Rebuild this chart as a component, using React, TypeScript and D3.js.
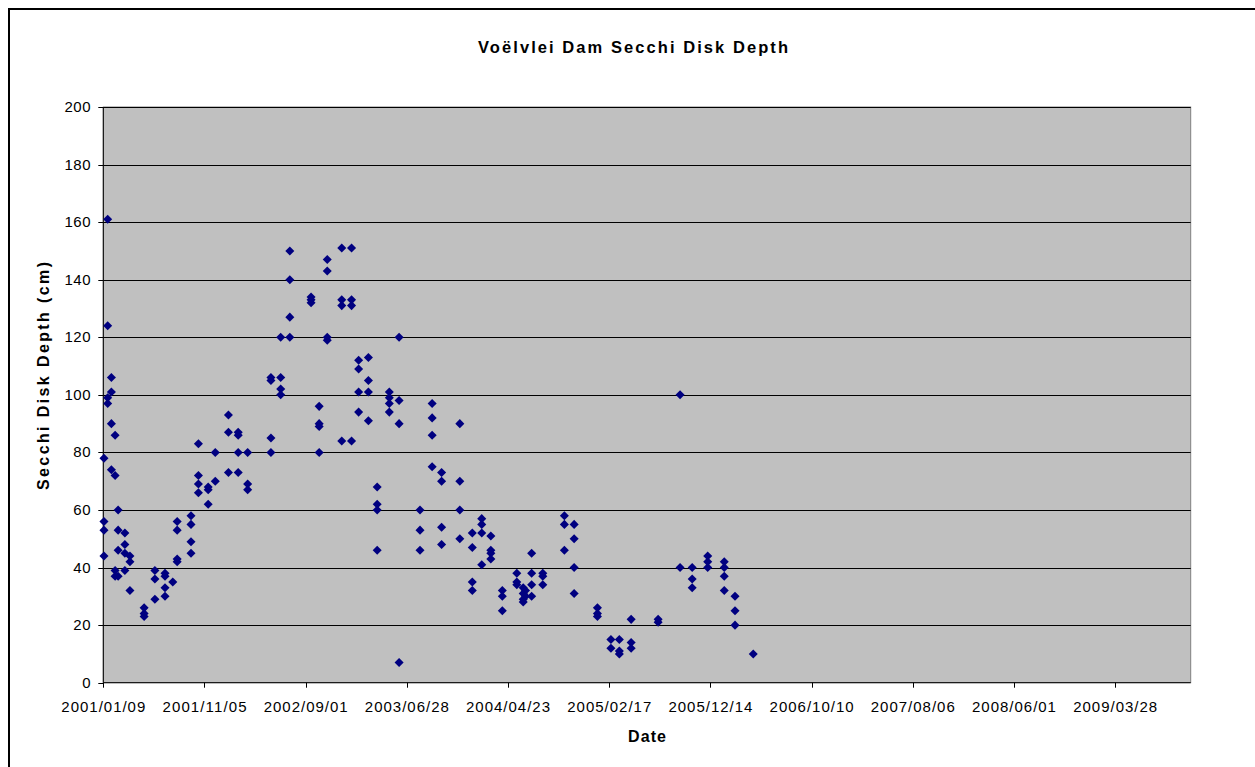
import React from "react";
import * as d3 from "d3";

// Days since the first sampling date (2001/01/09) and measured Secchi disk depth (cm)
const startDate = new Date(Date.UTC(2001, 0, 9));
const axisSpanDays = 3224;
const tickStepDays = 300;

const sampleDays = [
  2, 2, 2, 2,
  13, 13, 13, 13,
  24, 24, 24, 24,
  35, 35, 35, 35,
  44, 44, 44, 44,
  64, 64, 64, 64,
  79, 79, 79,
  121, 121, 121,
  153, 153, 153,
  183, 183, 183, 183,
  206,
  219, 219, 219, 219,
  260, 260, 260, 260,
  282, 282, 282, 282,
  311, 311, 311,
  332, 332,
  371, 371, 371,
  400, 400, 400, 400,
  428, 428, 428,
  497, 497, 497, 497,
  526, 526, 526, 526,
  553, 553, 553, 553,
  616, 616, 616,
  640, 640, 640, 640,
  664, 664, 664, 664,
  707, 707, 707, 707,
  736, 736, 736, 736,
  757, 757, 757, 757,
  786, 786, 786, 786,
  812, 812, 812, 812,
  848, 848, 848, 848,
  877, 877, 877, 877,
  939, 939, 939,
  975, 975, 975, 975,
  1003, 1003, 1003, 1003,
  1057, 1057, 1057, 1057,
  1094, 1094, 1094, 1094,
  1122, 1122, 1122, 1122,
  1149, 1149, 1149, 1149,
  1183, 1183, 1183,
  1226, 1226, 1226,
  1245, 1245, 1245, 1245,
  1252, 1252,
  1270, 1270, 1270, 1270,
  1303, 1303, 1303,
  1367, 1367, 1367,
  1396, 1396, 1396, 1396,
  1465, 1465, 1465,
  1505, 1505,
  1530, 1530, 1530,
  1565, 1565, 1565,
  1645, 1645,
  1710, 1710,
  1746, 1746, 1746,
  1792, 1792, 1792,
  1841, 1841, 1841, 1841,
  1873, 1873, 1873,
  1927,
];

const depths = [
  78, 56, 53, 44,
  161, 124, 99, 97,
  106, 101, 90, 74,
  86, 72, 39, 37,
  60, 53, 46, 37,
  52, 48, 45, 39,
  44, 42, 32,
  26, 24, 23,
  39, 36, 29,
  38, 37, 33, 30,
  35,
  56, 53, 43, 42,
  58, 55, 49, 45,
  83, 72, 69, 66,
  68, 67, 62,
  80, 70,
  93, 87, 73,
  87, 86, 80, 73,
  80, 69, 67,
  106, 105, 85, 80,
  120, 106, 102, 100,
  150, 140, 127, 120,
  134, 133, 132,
  96, 90, 89, 80,
  147, 143, 120, 119,
  151, 133, 131, 84,
  151, 133, 131, 84,
  112, 109, 101, 94,
  113, 105, 101, 91,
  68, 62, 60, 46,
  101, 99, 97, 94,
  120, 98, 90, 7,
  60, 53, 46,
  97, 92, 86, 75,
  73, 70, 54, 48,
  90, 70, 60, 50,
  52, 47, 35, 32,
  57, 55, 52, 41,
  51, 46, 45, 43,
  32, 30, 25,
  38, 35, 34,
  33, 31, 29, 28,
  32, 30,
  45, 38, 34, 30,
  38, 37, 34,
  58, 55, 46,
  55, 50, 40, 31,
  26, 24, 23,
  15, 12,
  15, 11, 10,
  22, 14, 12,
  22, 21,
  100, 40,
  40, 36, 33,
  44, 42, 40,
  42, 40, 37, 32,
  30, 25, 20,
  10,
];

const yTicks = [0, 20, 40, 60, 80, 100, 120, 140, 160, 180, 200];

const titleText = "Voëlvlei Dam Secchi Disk Depth";
const xTitleText = "Date";
const yTitleText = "Secchi Disk Depth (cm)";

const W = 1255;
const H = 767;
const plot = { left: 103.3, right: 1190.7, top: 107, bottom: 682.7 };
const font = "Arial, 'Liberation Sans', Helvetica, sans-serif";

export default function App() {
  const endDate = d3.utcDay.offset(startDate, axisSpanDays);
  const x = d3.scaleUtc().domain([startDate, endDate]).range([plot.left, plot.right]);
  const y = d3.scaleLinear().domain([0, 200]).range([plot.bottom, plot.top]);
  const fmt = d3.utcFormat("%Y/%m/%d");

  const xTicks: Date[] = [];
  for (let d = 0; d <= axisSpanDays; d += tickStepDays) xTicks.push(d3.utcDay.offset(startDate, d));

  const points = sampleDays.map((d, i) => ({ date: d3.utcDay.offset(startDate, d), v: depths[i] }));
  const diamond = d3.symbol().type(d3.symbolDiamond2).size(52)();

  return (
    <svg width={W} height={H} style={{ position: "absolute", left: 0, top: 0, background: "#fff" }} fontFamily={font}>
      <rect x={9} y={9} width={1270} height={780} fill="#fff" stroke="#000" strokeWidth={2} />
      <text x={633} y={53} textAnchor="middle" fontWeight="bold" fontSize={16.5} textLength={310} lengthAdjust="spacing">
        {titleText}
      </text>
      <rect x={plot.left} y={plot.top} width={plot.right - plot.left} height={plot.bottom - plot.top} fill="#C0C0C0" stroke="#808080" strokeWidth={1} />
      {yTicks.filter((t) => t > 0).map((t) => (
        <line key={"g" + t} x1={plot.left} x2={plot.right} y1={Math.round(y(t)) + 0.5} y2={Math.round(y(t)) + 0.5} stroke="#000" strokeWidth={1} />
      ))}
      {yTicks.map((t) => (
        <g key={"y" + t}>
          <line x1={plot.left - 5} x2={plot.left} y1={Math.round(y(t)) + 0.5} y2={Math.round(y(t)) + 0.5} stroke="#000" />
          <text x={91} y={y(t) + 5} textAnchor="end" fontSize={15} letterSpacing={0.5}>
            {t}
          </text>
        </g>
      ))}
      {xTicks.map((t, i) => (
        <g key={"x" + i}>
          <line x1={Math.round(x(t)) + 0.5} x2={Math.round(x(t)) + 0.5} y1={plot.bottom} y2={plot.bottom + 5} stroke="#000" />
          <text x={x(t)} y={712} textAnchor="middle" fontSize={15} textLength={84} lengthAdjust="spacing">
            {fmt(t)}
          </text>
        </g>
      ))}
      <line x1={plot.left} x2={plot.left} y1={plot.top} y2={plot.bottom} stroke="#000" strokeWidth={1} />
      <line x1={plot.left} x2={plot.right} y1={plot.bottom} y2={plot.bottom} stroke="#000" strokeWidth={1} />
      <text x={647} y={742} textAnchor="middle" fontWeight="bold" fontSize={16} textLength={38} lengthAdjust="spacing">
        {xTitleText}
      </text>
      <text transform={`translate(49, 376) rotate(-90)`} textAnchor="middle" fontWeight="bold" fontSize={16} textLength={228} lengthAdjust="spacing">
        {yTitleText}
      </text>
      {points.map((p, i) => (
        <path key={"p" + i} d={diamond} transform={`translate(${x(p.date)}, ${y(p.v)})`} fill="#000080" />
      ))}
    </svg>
  );
}
